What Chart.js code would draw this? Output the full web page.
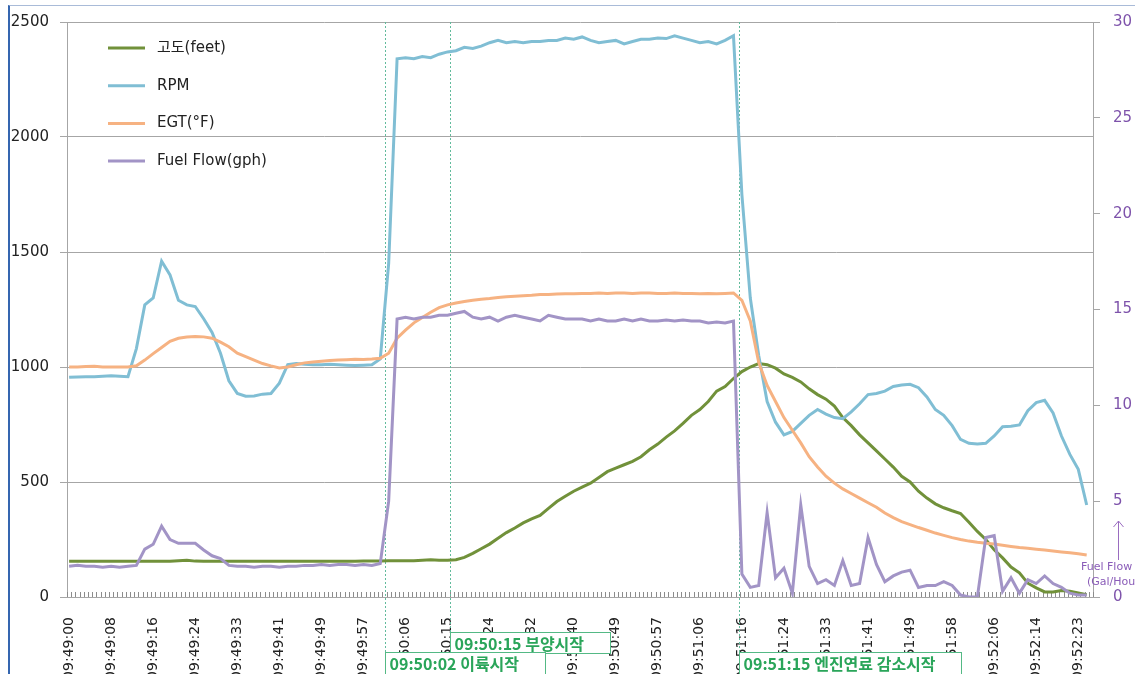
<!DOCTYPE html>
<html lang="ko">
<head>
<meta charset="utf-8">
<title>비행 데이터</title>
<script src="https://cdn.jsdelivr.net/npm/chart.js@4.4.1/dist/chart.umd.min.js"></script>
<style>
  html, body { margin: 0; padding: 0; background: #fff; overflow: hidden; }
  #wrap { position: relative; width: 1135px; height: 674px; }
  #frame {
    position: absolute; left: 8px; top: 5px; right: -10px; bottom: -10px;
    border-left: 2px solid #3566b0; border-top: 1px solid #a9bbd8;
    pointer-events: none;
  }
</style>
</head>
<body>
<div id="wrap">
  <canvas id="flightChart" width="1135" height="674"></canvas>
  <div id="frame"></div>
</div>
<script>
// ===== Samples (one stored value every STEP samples) =====
const STEP = 2;
const N_SAMPLES = 244;
const TICK_EVERY = 10;

const tickLabels = [
  "09:49:00","09:49:08","09:49:16","09:49:24","09:49:33","09:49:41","09:49:49","09:49:57",
  "09:50:06","09:50:15","09:50:24","09:50:32","09:50:40","09:50:49","09:50:57","09:51:06",
  "09:51:16","09:51:24","09:51:33","09:51:41","09:51:49","09:51:58","09:52:06","09:52:14","09:52:23"
];

// 고도 (feet)
const altitude = [
  155,155,155,155,155,155,155,155,155,155,
  155,155,155,158,160,156,155,155,155,155,
  155,155,155,155,155,155,155,155,155,155,
  155,155,155,155,155,156,156,157,158,158,
  158,158,160,162,160,160,162,172,190,210,
  230,255,280,300,322,340,355,385,415,438,
  460,478,495,520,545,560,575,590,610,640,
  665,695,722,755,790,815,850,895,915,950,
  980,1000,1015,1010,995,970,955,935,905,880,
  860,830,780,745,705,670,635,600,565,525,
  500,460,430,405,388,375,363,325,285,250,
  205,170,130,105,60,40,22,22,28,25,
  18,10
];

// RPM
const rpm = [
  955,957,958,958,960,962,960,958,1080,1270,
  1300,1460,1400,1290,1270,1263,1210,1150,1060,940,
  885,873,874,882,885,930,1010,1015,1012,1010,
  1010,1012,1010,1008,1006,1008,1010,1035,1450,2340,
  2345,2340,2350,2345,2360,2370,2375,2390,2385,2395,
  2410,2420,2410,2415,2410,2415,2415,2420,2420,2430,
  2425,2435,2420,2410,2415,2420,2405,2415,2425,2425,
  2430,2428,2440,2430,2420,2410,2415,2405,2420,2440,
  1750,1300,1050,850,760,705,720,755,790,815,
  795,780,775,805,840,880,885,895,915,922,
  925,910,870,815,790,745,685,668,665,668,
  700,740,742,748,810,845,855,800,700,620,
  555,400
];

// EGT (°F)
const egt = [
  1000,1000,1002,1003,1000,1000,1000,1000,1005,1030,
  1058,1085,1112,1125,1130,1133,1131,1125,1108,1088,
  1060,1045,1030,1015,1005,996,1000,1010,1018,1022,
  1025,1028,1030,1032,1034,1033,1035,1038,1060,1125,
  1160,1192,1215,1238,1258,1270,1278,1285,1290,1295,
  1298,1302,1305,1308,1310,1312,1315,1315,1317,1318,
  1318,1320,1320,1322,1320,1322,1322,1320,1322,1322,
  1320,1320,1322,1320,1320,1318,1320,1318,1320,1322,
  1290,1200,1020,920,850,780,725,670,610,565,
  525,495,470,450,430,410,390,365,345,328,
  315,302,290,278,268,258,250,243,238,234,
  230,225,220,215,212,208,204,200,196,192,
  188,183
];

// Fuel Flow (gph), right axis
const fuelFlow = [
  1.6,1.65,1.6,1.6,1.55,1.6,1.55,1.6,1.65,2.5,
  2.75,3.7,3.0,2.8,2.8,2.8,2.45,2.15,2.0,1.65,
  1.6,1.6,1.55,1.6,1.6,1.55,1.6,1.6,1.65,1.65,
  1.7,1.65,1.7,1.7,1.65,1.7,1.65,1.75,5.0,14.5,
  14.6,14.5,14.6,14.6,14.7,14.7,14.8,14.9,14.6,14.5,
  14.6,14.4,14.6,14.7,14.6,14.5,14.4,14.7,14.6,14.5,
  14.5,14.5,14.4,14.5,14.4,14.4,14.5,14.4,14.5,14.4,
  14.4,14.45,14.4,14.45,14.4,14.4,14.3,14.35,14.3,14.4,
  1.2,0.5,0.6,4.4,1.0,1.5,0.2,4.8,1.6,0.7,
  0.9,0.6,1.9,0.6,0.7,3.1,1.7,0.8,1.1,1.3,
  1.4,0.5,0.6,0.6,0.8,0.6,0.1,0,0,3.1,
  3.2,0.3,1.0,0.2,0.9,0.7,1.1,0.7,0.5,0.2,
  0.1,0.1
];

// ===== Events (sample index) =====
const eventIdx = [75.1, 90.6, 159.3];
const eventText = ["09:50:02 이륙시작", "09:50:15 부양시작", "09:51:15 엔진연료 감소시작"];
const eventRow = [1, 0, 1];

const seriesNames = ["고도(feet)", "RPM", "EGT(°F)", "Fuel Flow(gph)"];
const seriesColors = ["#71913a", "#80bed4", "#f6b282", "#a294c6"];

const toPoints = arr => arr.map((v, k) => ({ x: k * STEP, y: v }));

Chart.defaults.font.family = "'DejaVu Sans', 'Noto Sans CJK KR', sans-serif";
Chart.defaults.color = "#222";

// ===== Extra drawing: event lines, minor ticks, legend, notes =====
const overlay = {
  id: "overlay",
  beforeDatasetsDraw(chart) {
    const { ctx, chartArea, scales } = chart;
    ctx.save();
    // minor tick marks, pointing up into the plot
    ctx.strokeStyle = "#8c8c8c";
    ctx.lineWidth = 1;
    ctx.beginPath();
    for (let k = 0; k <= N_SAMPLES; k++) {
      const x = Math.round(scales.x.getPixelForValue(k - 0.5)) + 0.5;
      ctx.moveTo(x, chartArea.bottom);
      ctx.lineTo(x, chartArea.bottom - 5);
    }
    ctx.stroke();
    // dotted event lines
    ctx.strokeStyle = "#62bb9c";
    ctx.setLineDash([2, 2]);
    eventIdx.forEach((idx, j) => {
      const x = Math.round(scales.x.getPixelForValue(idx)) + 0.5;
      const boxTop = chartArea.bottom + 35 + eventRow[j] * 20;
      ctx.beginPath();
      ctx.moveTo(x, chartArea.top);
      ctx.lineTo(x, boxTop);
      ctx.stroke();
    });
    ctx.restore();
  },
  afterDraw(chart) {
    const { ctx, chartArea, scales } = chart;
    ctx.save();
    // legend inside the plot
    ctx.font = "15px 'DejaVu Sans', 'Noto Sans CJK KR', sans-serif";
    ctx.textBaseline = "middle";
    seriesNames.forEach((name, j) => {
      const y = chartArea.top + 26 + j * 37.7;
      ctx.strokeStyle = seriesColors[j];
      ctx.lineWidth = 3;
      ctx.beginPath();
      ctx.moveTo(chartArea.left + 41, y);
      ctx.lineTo(chartArea.left + 78, y);
      ctx.stroke();
      ctx.fillStyle = "#222";
      ctx.fillText(name, chartArea.left + 90, y);
    });

    // event boxes below the axis (upper row first, lower row on top)
    ctx.font = "bold 16px 'Noto Sans CJK KR', sans-serif";
    [0, 1].forEach(row => {
      eventIdx.forEach((idx, j) => {
        if (eventRow[j] !== row) return;
        const x = Math.round(scales.x.getPixelForValue(idx)) + 0.5;
        const top = chartArea.bottom + 35.5 + row * 20;
        const h = row === 0 ? 21 : 30;
        const w = Math.round(ctx.measureText(eventText[j]).width) + 30;
        ctx.fillStyle = "#fff";
        ctx.fillRect(x, top, w, h);
        ctx.strokeStyle = "#54b985";
        ctx.lineWidth = 1;
        ctx.strokeRect(x, top, w, h);
        ctx.fillStyle = "#2aa55a";
        ctx.fillText(eventText[j], x + 4, top + 11);
      });
    });

    // Fuel Flow note on the right axis
    const r = chartArea.right;
    const b = chartArea.bottom;
    ctx.strokeStyle = "#9a6cc0";
    ctx.lineWidth = 1;
    ctx.beginPath();
    ctx.moveTo(r + 25.5, b - 37);
    ctx.lineTo(r + 25.5, b - 76);
    ctx.moveTo(r + 20.5, b - 70);
    ctx.lineTo(r + 25.5, b - 76);
    ctx.lineTo(r + 30.5, b - 70);
    ctx.stroke();
    ctx.font = "11px 'DejaVu Sans', sans-serif";
    ctx.fillStyle = "#8a5cb8";
    ctx.fillText("Fuel Flow", r - 12, b - 30);
    ctx.fillText("(Gal/Hour", r - 6, b - 15);
    ctx.restore();
  }
};

function createFlightChart() {
  const ctx = document.getElementById("flightChart").getContext("2d");
  const series = [altitude, rpm, egt, fuelFlow];

  new Chart(ctx, {
    type: "line",
    data: {
      datasets: series.map((arr, j) => ({
        label: seriesNames[j],
        data: toPoints(arr),
        borderColor: seriesColors[j],
        borderWidth: 3,
        pointRadius: 0,
        tension: 0,
        yAxisID: j === 3 ? "y1" : "y",
        order: 4 - j
      }))
    },
    options: {
      responsive: false,
      animation: false,
      layout: { padding: { top: 19, left: 0, right: 0, bottom: 0 } },
      plugins: {
        legend: { display: false },
        tooltip: { enabled: false }
      },
      scales: {
        x: {
          type: "linear",
          min: -0.5,
          max: N_SAMPLES - 0.5,
          afterBuildTicks: s => { s.ticks = tickLabels.map((_, j) => ({ value: j * TICK_EVERY })); },
          afterFit: s => { s.height = 77; },
          grid: { display: false },
          border: { color: "#a6a6a6" },
          ticks: {
            autoSkip: false,
            minRotation: 90,
            maxRotation: 90,
            padding: 12,
            color: "#222",
            font: { size: 14 },
            callback: v => tickLabels[Math.round(v / TICK_EVERY)]
          }
        },
        y: {
          position: "left",
          min: 0,
          max: 2500,
          afterFit: s => { s.width = 67; },
          grid: { color: "#a6a6a6", tickLength: 7 },
          border: { color: "#a6a6a6" },
          ticks: { stepSize: 500, padding: 11, color: "#222", font: { size: 15 }, callback: v => String(v) }
        },
        y1: {
          position: "right",
          min: 0,
          max: 30,
          afterFit: s => { s.width = 42; },
          grid: { drawOnChartArea: false, color: "#a6a6a6", tickLength: 7 },
          border: { color: "#a6a6a6" },
          ticks: { stepSize: 5, padding: 13, color: "#7e53ab", font: { size: 15 }, callback: v => String(v) }
        }
      }
    },
    plugins: [overlay]
  });
}

createFlightChart();
</script>
</body>
</html>
